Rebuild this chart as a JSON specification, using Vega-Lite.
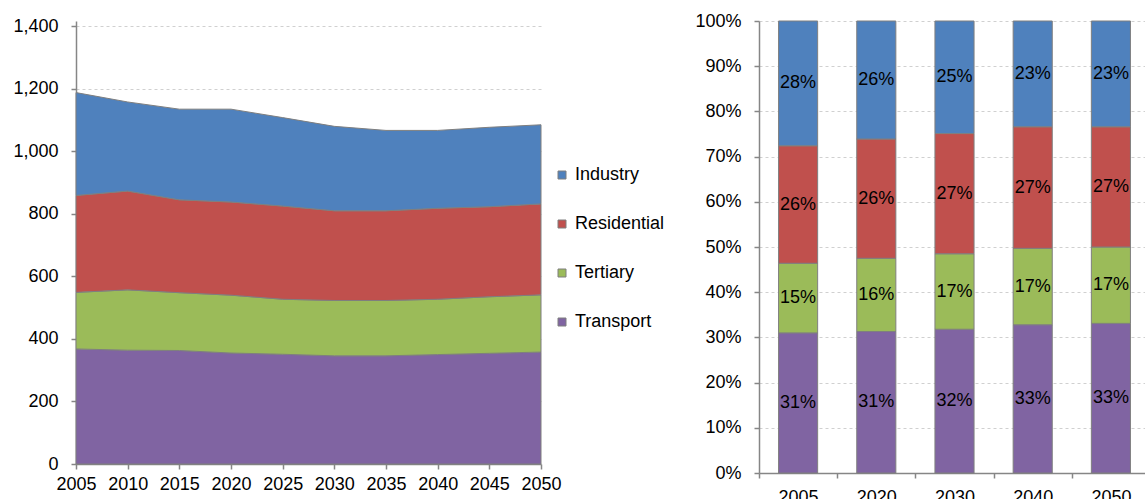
{
  "$schema": "https://vega.github.io/schema/vega-lite/v6.json",
  "padding": {"left": 12, "top": 12, "right": 0, "bottom": 0},
  "config": {
    "view": {"stroke": null},
    "font": "Liberation Sans",
    "axis": {"labelFont": "Liberation Sans", "labelFontSize": 18, "labelColor": "#000000", "domainColor": "#868686", "domainWidth": 1.5, "tickColor": "#868686", "tickWidth": 1.5, "tickSize": 5, "gridColor": "#d0d0d0", "gridDash": [3, 3], "gridWidth": 1},
    "concat": {"spacing": 29}
  },
  "resolve": {"scale": {"color": "independent"}, "legend": {"color": "independent"}},
  "datasets": {
    "energy": [
      {"year": 2005, "sector": "Transport", "value": 368}, {"year": 2010, "sector": "Transport", "value": 364}, {"year": 2015, "sector": "Transport", "value": 363}, {"year": 2020, "sector": "Transport", "value": 355}, {"year": 2025, "sector": "Transport", "value": 351}, {"year": 2030, "sector": "Transport", "value": 346}, {"year": 2035, "sector": "Transport", "value": 346}, {"year": 2040, "sector": "Transport", "value": 350}, {"year": 2045, "sector": "Transport", "value": 354}, {"year": 2050, "sector": "Transport", "value": 358},
      {"year": 2005, "sector": "Tertiary", "value": 181}, {"year": 2010, "sector": "Tertiary", "value": 193}, {"year": 2015, "sector": "Tertiary", "value": 185}, {"year": 2020, "sector": "Tertiary", "value": 185}, {"year": 2025, "sector": "Tertiary", "value": 176}, {"year": 2030, "sector": "Tertiary", "value": 177}, {"year": 2035, "sector": "Tertiary", "value": 177}, {"year": 2040, "sector": "Tertiary", "value": 177}, {"year": 2045, "sector": "Tertiary", "value": 181}, {"year": 2050, "sector": "Tertiary", "value": 183},
      {"year": 2005, "sector": "Residential", "value": 310}, {"year": 2010, "sector": "Residential", "value": 316}, {"year": 2015, "sector": "Residential", "value": 297}, {"year": 2020, "sector": "Residential", "value": 298}, {"year": 2025, "sector": "Residential", "value": 298}, {"year": 2030, "sector": "Residential", "value": 287}, {"year": 2035, "sector": "Residential", "value": 287}, {"year": 2040, "sector": "Residential", "value": 291}, {"year": 2045, "sector": "Residential", "value": 288}, {"year": 2050, "sector": "Residential", "value": 291},
      {"year": 2005, "sector": "Industry", "value": 329}, {"year": 2010, "sector": "Industry", "value": 285}, {"year": 2015, "sector": "Industry", "value": 290}, {"year": 2020, "sector": "Industry", "value": 297}, {"year": 2025, "sector": "Industry", "value": 283}, {"year": 2030, "sector": "Industry", "value": 270}, {"year": 2035, "sector": "Industry", "value": 257}, {"year": 2040, "sector": "Industry", "value": 249}, {"year": 2045, "sector": "Industry", "value": 254}, {"year": 2050, "sector": "Industry", "value": 253}
    ],
    "shares": [
      {"year": 2005, "sector": "Transport", "share": 0.310}, {"year": 2005, "sector": "Tertiary", "share": 0.154}, {"year": 2005, "sector": "Residential", "share": 0.260}, {"year": 2005, "sector": "Industry", "share": 0.276},
      {"year": 2020, "sector": "Transport", "share": 0.313}, {"year": 2020, "sector": "Tertiary", "share": 0.162}, {"year": 2020, "sector": "Residential", "share": 0.264}, {"year": 2020, "sector": "Industry", "share": 0.261},
      {"year": 2030, "sector": "Transport", "share": 0.318}, {"year": 2030, "sector": "Tertiary", "share": 0.167}, {"year": 2030, "sector": "Residential", "share": 0.266}, {"year": 2030, "sector": "Industry", "share": 0.249},
      {"year": 2040, "sector": "Transport", "share": 0.328}, {"year": 2040, "sector": "Tertiary", "share": 0.169}, {"year": 2040, "sector": "Residential", "share": 0.269}, {"year": 2040, "sector": "Industry", "share": 0.234},
      {"year": 2050, "sector": "Transport", "share": 0.331}, {"year": 2050, "sector": "Tertiary", "share": 0.169}, {"year": 2050, "sector": "Residential", "share": 0.266}, {"year": 2050, "sector": "Industry", "share": 0.234}
    ]
  },
  "hconcat": [
    {
      "width": 465,
      "height": 443,
      "data": {"name": "energy"},
      "mark": {"type": "area", "stroke": "#7f7f7f", "strokeWidth": 1},
      "encoding": {
        "x": {"field": "year", "type": "quantitative", "scale": {"domain": [2005, 2050], "nice": false, "zero": false}, "axis": {"values": [2005, 2010, 2015, 2020, 2025, 2030, 2035, 2040, 2045, 2050], "format": "d", "grid": false, "labelFlush": false, "labelPadding": 6, "title": null}},
        "y": {"field": "value", "type": "quantitative", "stack": "zero", "scale": {"domain": [0, 1417], "nice": false}, "axis": {"values": [0, 200, 400, 600, 800, 1000, 1200, 1400], "format": ",d", "labelPadding": 13, "grid": true, "title": null}},
        "color": {"field": "sector", "type": "nominal", "scale": {"domain": ["Industry", "Residential", "Tertiary", "Transport"], "range": ["#4F81BD", "#C0504D", "#9BBB59", "#8064A2"]}, "legend": {"orient": "none", "legendX": 477, "legendY": 145, "title": null, "symbolType": "square", "symbolSize": 64, "symbolStrokeColor": "#7f7f7f", "symbolStrokeWidth": 1, "labelFont": "Liberation Sans", "labelFontSize": 18, "labelColor": "#000000", "labelOffset": 4, "rowPadding": 31}},
        "order": {"field": "sector", "sort": "descending"}
      }
    },
    {
      "width": 391,
      "height": 452,
      "data": {"name": "shares"},
      "encoding": {
        "x": {"field": "year", "type": "ordinal", "scale": {"paddingInner": 0, "paddingOuter": 0}, "axis": {"labelAngle": 0, "tickBand": "extent", "labelPadding": 10, "grid": false, "title": null}}
      },
      "layer": [
        {
          "mark": {"type": "bar", "width": {"band": 0.5}, "stroke": "#7f7f7f", "strokeWidth": 1},
          "encoding": {
            "y": {"field": "share", "type": "quantitative", "stack": "normalize", "scale": {"domain": [0, 1], "nice": false}, "axis": {"values": [0, 0.1, 0.2, 0.3, 0.4, 0.5, 0.6, 0.7, 0.8, 0.9, 1], "format": ".0%", "labelPadding": 13, "grid": true, "title": null}},
            "color": {"field": "sector", "type": "nominal", "scale": {"domain": ["Industry", "Residential", "Tertiary", "Transport"], "range": ["#4F81BD", "#C0504D", "#9BBB59", "#8064A2"]}, "legend": null},
            "order": {"field": "sector", "sort": "descending"}
          }
        },
        {
          "mark": {"type": "text", "fontSize": 18, "color": "#000000", "font": "Liberation Sans"},
          "encoding": {
            "y": {"field": "share", "type": "quantitative", "stack": "normalize", "bandPosition": 0.5, "scale": {"domain": [0, 1], "nice": false}, "axis": {"values": [0, 0.1, 0.2, 0.3, 0.4, 0.5, 0.6, 0.7, 0.8, 0.9, 1], "format": ".0%", "labelPadding": 13, "grid": true, "title": null}},
            "detail": {"field": "sector"},
            "order": {"field": "sector", "sort": "descending"},
            "text": {"field": "share", "type": "quantitative", "format": ".0%"}
          }
        }
      ]
    }
  ]
}
